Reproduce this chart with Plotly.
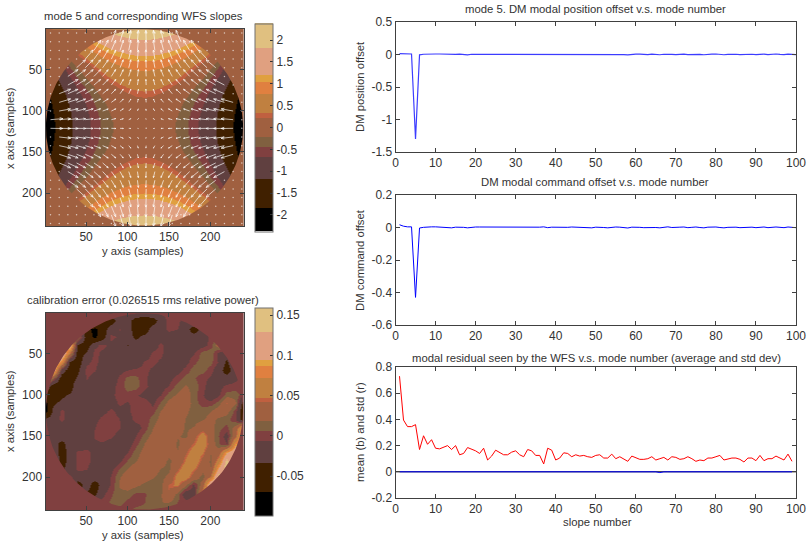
import numpy as np
import plotly.graph_objects as go

W, H = 811, 541

# ---------- discrete palette shared by both images ----------
PALETTE = ["#000000", "#402000", "#604040", "#804040", "#806040", "#A06040",
           "#C06040", "#C08040", "#E08040", "#E0A040", "#E0A080", "#E0C080"]
MODE_LEVELS = [-2.38, -1.85, -1.2, -0.68, -0.45, -0.22, 0.21, 0.31, 0.75, 1.02, 1.2, 1.81, 2.38]
ERR_LEVELS = [-0.0996, -0.0693, -0.034, -0.0058, 0.0062, 0.0187, 0.0427, 0.0477, 0.0718,
              0.0875, 0.0946, 0.1286, 0.159]
MODE_TICKS = [-2, -1.5, -1, -0.5, 0, 0.5, 1, 1.5, 2]
MODE_TICK_TEXT = ["-2", "-1.5", "-1", "-0.5", "0", "0.5", "1", "1.5", "2"]
ERR_TICKS = [-0.05, 0, 0.05, 0.1, 0.15]
ERR_TICK_TEXT = ["-0.05", "0", "0.05", "0.1", "0.15"]

GRID = list(range(0, 241, 10))
IMG_TICKS = [50, 100, 150, 200]

# Mode 5 map: one quadrant (distance from centre in rows / columns of 10 samples)
MODE_QUADRANT = [
    [0.00, -0.02, -0.06, -0.14, -0.26, -0.40, -0.58, -0.78, -1.02, -1.30, -1.60, -1.94, -2.30],
    [0.02, 0.00, -0.05, -0.13, -0.24, -0.38, -0.56, -0.77, -1.01, -1.28, -1.58, -1.92, -2.29],
    [0.06, 0.05, 0.00, -0.08, -0.19, -0.34, -0.51, -0.72, -0.96, -1.23, -1.54, -1.87, -2.24],
    [0.14, 0.13, 0.08, 0.00, -0.11, -0.26, -0.43, -0.64, -0.88, -1.15, -1.46, -1.79, -2.16],
    [0.26, 0.24, 0.19, 0.11, 0.00, -0.14, -0.32, -0.53, -0.77, -1.04, -1.34, -1.68, -2.05],
    [0.40, 0.38, 0.34, 0.26, 0.14, 0.00, -0.18, -0.38, -0.62, -0.90, -1.20, -1.54, -1.90],
    [0.58, 0.56, 0.51, 0.43, 0.32, 0.18, 0.00, -0.21, -0.45, -0.72, -1.02, -1.36, -1.73],
    [0.78, 0.77, 0.72, 0.64, 0.53, 0.38, 0.21, 0.00, -0.24, -0.51, -0.82, -1.15, -1.52],
    [1.02, 1.01, 0.96, 0.88, 0.77, 0.62, 0.45, 0.24, 0.00, -0.27, -0.58, -0.91, -1.28],
    [1.30, 1.28, 1.23, 1.15, 1.04, 0.90, 0.72, 0.51, 0.27, 0.00, -0.30, -0.64, -1.01],
    [1.60, 1.58, 1.54, 1.46, 1.34, 1.20, 1.02, 0.82, 0.58, 0.30, 0.00, -0.34, -0.70],
    [1.94, 1.92, 1.87, 1.79, 1.68, 1.54, 1.36, 1.15, 0.91, 0.64, 0.34, 0.00, -0.37],
    [2.30, 2.29, 2.24, 2.16, 2.05, 1.90, 1.73, 1.52, 1.28, 1.01, 0.70, 0.37, 0.00],
]

# Calibration error map: rows 0..240, columns 0..240, every 10 samples
ERR_MAP = [
    [0]*25,
    [0,0,0,0,0,0,0,-.04,-.05,-.02,-.02,-.05,-.06,-.05,-.02,0,0,-.02,0,0,0,0,0,0,0],
    [0,0,0,0,0,-.06,-.08,-.05,-.02,-.005,-.02,-.05,-.05,-.02,-.02,0,-.006,-.02,-.05,-.02,0,0,0,0,0],
    [0,0,0,0,.03,-.05,-.075,-.05,0,-.01,-.02,-.04,-.025,-.02,-.02,-.02,-.02,-.02,-.02,-.02,0,0,0,0,0],
    [0,0,0,.13,-.04,-.05,-.01,0,-.012,-.02,-.035,-.02,-.02,-.02,0,-.02,-.02,-.02,-.02,-.012,0,.03,0,0,0],
    [0,0,.14,.05,-.05,-.03,0,-.01,-.02,-.02,-.02,-.02,-.02,-.002,0,-.02,-.02,-.012,-.008,.012,.015,-.01,-.02,0,0],
    [0,.14,.08,-.04,-.05,-.01,0,-.015,-.02,-.02,-.02,-.02,-.004,0,-.01,-.02,-.02,-.012,.003,.013,.01,-.008,-.04,0,0],
    [0,.13,-.02,-.05,-.04,0,-.004,-.02,-.02,-.012,-.006,-.002,0,-.01,-.02,-.02,-.012,0,.012,.012,0,-.02,-.05,-.01,0],
    [.08,.02,-.05,-.05,-.03,-.004,-.015,-.02,-.02,-.002,.01,.01,-.002,-.015,-.02,-.012,0,.012,.008,-.002,-.008,-.02,-.02,-.01,0],
    [0,-.05,-.06,-.05,-.01,-.015,-.02,-.02,-.012,0,.012,.012,-.002,-.012,-.015,-.005,.012,.02,.014,-.001,-.015,-.012,-.002,0,0],
    [-.05,-.06,-.04,-.03,-.02,-.02,-.02,-.02,-.01,0,.002,-.003,-.012,-.015,-.006,.012,.022,.028,.012,-.004,-.02,-.008,.012,.012,0],
    [-.08,-.04,-.025,-.02,-.02,-.02,-.02,-.02,-.014,-.003,-.008,.002,.003,-.01,.008,.024,.032,.03,.012,0,0,.012,.045,.02,-.05],
    [-.09,-.03,0,-.02,-.02,-.02,-.02,-.012,-.002,-.012,-.01,.003,.002,.001,.02,.03,.032,.022,.012,.014,.018,.03,.025,0,-.06],
    [-.03,-.02,-.001,-.02,-.02,-.02,-.012,0,.003,-.006,-.015,0,-.003,.012,.024,.032,.03,.018,.012,.017,.024,.016,.012,-.005,-.06],
    [0,-.02,-.018,-.02,-.02,-.02,-.006,.006,.005,-.005,-.02,-.015,0,.018,.03,.033,.028,.016,.02,.035,.025,.01,.002,.03,.1],
    [.01,-.02,-.02,-.02,-.02,-.02,-.005,0,-.003,-.014,-.02,-.006,.012,.025,.032,.032,.02,.016,.035,.06,.03,.006,-.015,.04,.12],
    [-.02,-.02,-.045,-.02,-.02,-.02,-.008,-.008,-.014,-.02,-.015,.002,.02,.03,.033,.03,.016,.03,.045,.065,.03,.008,-.005,.09,.1],
    [0,-.01,-.05,-.02,-.003,0,-.012,-.02,-.02,-.018,-.006,.012,.025,.03,.032,.024,.02,.04,.06,.05,.02,.03,.09,.12,0],
    [0,0,-.045,-.025,-.001,0,-.012,-.02,-.02,-.01,.008,.018,.028,.03,.025,.016,.025,.05,.065,.035,.016,.06,.14,.05,0],
    [0,0,-.04,-.02,-.002,-.005,-.02,-.02,-.012,.008,.02,.03,.03,.026,.018,.016,.04,.065,.05,.025,.02,.1,.15,0,0],
    [0,0,0,0,-.02,-.02,-.02,-.02,-.005,.018,.03,.032,.025,.02,.014,.022,.06,.06,.03,.012,.05,.15,.1,0,0],
    [0,0,0,0,-.05,-.02,-.05,-.02,-.004,.02,.028,.022,.015,.01,.012,.045,.05,.02,-.01,.03,.14,.12,0,0,0],
    [0,0,0,0,0,-.04,-.04,-.01,.004,.015,.012,.004,.005,.012,.016,.04,.012,-.02,-.015,.06,.1,0,0,0,0],
    [0,0,0,0,0,0,0,0,.008,.012,.002,-.002,.006,.012,.018,.02,.006,0,0,0,0,0,0,0,0],
    [0,0,0,0,0,0,0,0,0,0,0,.012,.012,.012,0,0,0,0,0,0,0,0,0,0,0],
]

# ---------- line plots ----------
MODE_NUMBERS = list(range(1, 101))
SLOPE_NUMBERS = list(range(1, 100))
POSITION_OFFSET = [
    .012, .012, .008, .008, -1.30, -.005, .004, .008, .008, .008,
    .008, .006, -.004, -.004, .002, .006, -.002, -.006, .004, .004,
    .006, .006, -.002, -.004, -.004, -.002, .006, .002, -.003, .006,
    .006, .002, -.002, .003, -.002, .006, .006, .002, -.004, -.004,
    .004, .006, -.003, .002, .006, .006, .002, -.002, -.004, .004,
    .006, .002, -.004, .002, .006, .006, -.002, -.006, .004, .006,
    .006, -.002, -.002, .006, .002, -.004, .004, .008, .002, -.003,
    .004, .006, -.002, .002, .006, .002, -.004, .004, .006, .008,
    .002, -.004, .002, .006, .004, -.002, .002, .008, .004, -.003,
    .004, .006, -.002, .004, .008, .002, -.002, .006, .004, -.002,
]
COMMAND_OFFSET = [
    .017, .008, .004, .004, -.43, -.003, .001, .004, .004, .004,
    .003, -.001, .002, -.002, .002, .003, .001, -.002, .002, .003,
    .003, .003, .002, -.001, -.001, .000, .003, .000, -.001, .000,
    .000, .001, .003, .000, -.001, .002, .004, -.001, .002, .001,
    .000, .003, .001, .003, .002, .000, .002, -.001, -.002, .002,
    .003, .000, -.002, .001, .003, .002, -.001, -.003, .002, .003,
    .001, -.001, .000, .003, .000, -.002, .002, .004, .000, -.001,
    .002, .003, -.001, .001, .003, .000, -.002, .002, .003, .003,
    .000, -.002, .001, .003, .002, -.001, .001, .003, .002, -.001,
    .002, .003, -.001, .002, .003, .001, -.001, .003, .002, -.001,
]
RESIDUAL_STD = [
    .73, .395, .345, .345, .36, .17, .275, .21, .245, .18,
    .175, .19, .20, .17, .20, .13, .14, .185, .175, .16,
    .14, .18, .09, .12, .165, .15, .13, .13, .15, .16,
    .13, .115, .17, .16, .125, .125, .06, .18, .165, .09,
    .105, .145, .14, .115, .13, .12, .125, .115, .11, .125,
    .13, .105, .105, .135, .10, .115, .10, .08, .12, .105,
    .095, .095, .10, .115, .09, .10, .11, .09, .115, .11,
    .095, .10, .115, .10, .08, .09, .085, .105, .105, .115,
    .125, .09, .10, .105, .105, .095, .075, .105, .105, .085,
    .125, .085, .10, .10, .12, .105, .09, .135, .08,
]
RESIDUAL_MEAN = [
    0, 0, 0, 0, 0, 0, 0, 0, 0, 0, 0, 0, 0, 0, 0, 0, 0, 0, 0, 0,
    0, 0, 0, 0, 0, 0, 0, 0, 0, 0, 0, 0, 0, 0, 0, 0, 0, 0, 0, 0,
    0, 0, 0, 0, 0, 0, 0, 0, 0, 0, 0, 0, 0, 0, 0, 0, 0, 0, 0, 0,
    0, 0, 0, 0, 0, -.006, 0, 0, 0, 0, 0, 0, 0, 0, 0, 0, 0, 0, 0, 0,
    0, 0, 0, 0, 0, 0, 0, 0, 0, 0, 0, 0, 0, 0, 0, 0, 0, 0, 0,
]
ZERO_LINE_X = [0, 100]
ZERO_LINE_Y = [0, 0]


def px(x):
    return x / W


def py(y):
    return 1 - y / H


def step_scale(levels):
    lo, hi = levels[0], levels[-1]
    out = []
    for i, c in enumerate(PALETTE):
        out.append([(levels[i] - lo) / (hi - lo), c])
        out.append([(levels[i + 1] - lo) / (hi - lo), c])
    return out


def full_from_quadrant(q):
    rows = [r[:0:-1] + r for r in q]
    return rows[:0:-1] + rows


FONT = "Liberation Sans"
TXT = "#333333"
LINE = "#404040"
fig = go.Figure()

AX = dict(showgrid=False, zeroline=False, showline=True, linecolor=LINE, linewidth=1,
          mirror="ticks", ticks="inside", ticklen=4, tickcolor=LINE, tickwidth=1,
          tickfont=dict(family=FONT, size=12, color=TXT))

panels = {
    "": (45.5, 243.5, 29, 226),
    "2": (45.5, 243.5, 313, 510),
    "3": (395.5, 796, 22, 152),
    "4": (395.5, 796, 195, 325),
    "5": (395.5, 796, 367, 498),
}
layout = {}
for k, (l, r, t, b) in panels.items():
    layout["xaxis" + k] = dict(AX, domain=[px(l), px(r)], anchor="y" + k)
    layout["yaxis" + k] = dict(AX, domain=[py(b), py(t)], anchor="x" + k)

for k in ["", "2"]:
    layout["xaxis" + k].update(range=[1, 240], tickvals=IMG_TICKS)
    layout["yaxis" + k].update(range=[240, 1], tickvals=IMG_TICKS)

layout["xaxis3"].update(range=[0, 100], tick0=0, dtick=10)
layout["xaxis4"].update(range=[0, 100], tick0=0, dtick=10)
layout["xaxis5"].update(range=[0, 100], tick0=0, dtick=10)
layout["yaxis3"].update(range=[-1.5, 0.5], tickvals=[-1.5, -1, -0.5, 0, 0.5],
                        ticktext=["-1.5", "-1", "-0.5", "0", "0.5"])
layout["yaxis4"].update(range=[-0.6, 0.2], tickvals=[-0.6, -0.4, -0.2, 0, 0.2],
                        ticktext=["-0.6", "-0.4", "-0.2", "0", "0.2"])
layout["yaxis5"].update(range=[-0.2, 0.8], tickvals=[-0.2, 0, 0.2, 0.4, 0.6, 0.8],
                        ticktext=["-0.2", "0", "0.2", "0.4", "0.6", "0.8"])

mode_z = np.array(full_from_quadrant(MODE_QUADRANT), dtype=float)
err_z = np.array(ERR_MAP, dtype=float)


def cbar(tickvals, ticktext, top, bottom):
    return dict(x=px(255), xanchor="left", y=py(bottom), yanchor="bottom",
                len=(bottom - top) / H, lenmode="fraction", thickness=17.5, thicknessmode="pixels",
                xpad=0, ypad=0, outlinecolor="#707070", outlinewidth=1,
                ticks="inside", ticklen=3, tickcolor="#333333", tickwidth=1,
                tickvals=tickvals, ticktext=ticktext,
                tickfont=dict(family=FONT, size=12, color=TXT))


fig.add_trace(go.Heatmap(x=GRID, y=GRID, z=mode_z, zsmooth="best", xaxis="x", yaxis="y",
                         zmin=MODE_LEVELS[0], zmax=MODE_LEVELS[-1],
                         colorscale=step_scale(MODE_LEVELS), hoverinfo="skip",
                         colorbar=cbar(MODE_TICKS, MODE_TICK_TEXT, 23.3, 231.5)))
fig.add_trace(go.Heatmap(x=GRID, y=GRID, z=err_z, zsmooth="best", xaxis="x2", yaxis="y2",
                         zmin=ERR_LEVELS[0], zmax=ERR_LEVELS[-1],
                         colorscale=step_scale(ERR_LEVELS), hoverinfo="skip",
                         colorbar=cbar(ERR_TICKS, ERR_TICK_TEXT, 308, 516)))

# Aperture mask: everything outside the pupil takes the image's background colour
CX, CY, RAD = 120.5, 120.5, 119.0
t = np.linspace(0, 2 * np.pi, 361)
mx = np.r_[-5, 250, 250, -5, -5, CX + RAD * np.cos(-np.pi / 2 - t), -5]
my = np.r_[-5, -5, 250, 250, CY - RAD, CY + RAD * np.sin(-np.pi / 2 - t), -5]
for xa, ya, col in [("x", "y", PALETTE[5]), ("x2", "y2", PALETTE[3])]:
    fig.add_trace(go.Scatter(x=mx, y=my, mode="lines", fill="toself", fillcolor=col,
                             line=dict(width=0, color=col), xaxis=xa, yaxis=ya,
                             hoverinfo="skip", showlegend=False))

# WFS slopes: gradient of the mode map, on the lenslet grid
Q_ROWS = 6 + 10.5 * np.arange(23)
Q_COLS = 7 + 10.5 * np.arange(23)
gv, gu = np.gradient(mode_z, 10.0)
SCALE = 420.0


def sample(a, r, c):
    fr, fc = np.clip(r / 10, 0, 23.999), np.clip(c / 10, 0, 23.999)
    i, j = int(fr), int(fc)
    dr, dc = fr - i, fc - j
    return ((1 - dr) * (1 - dc) * a[i, j] + (1 - dr) * dc * a[i, j + 1]
            + dr * (1 - dc) * a[i + 1, j] + dr * dc * a[i + 1, j + 1])


ax_, ay_, dx_, dy_ = [], [], [], []
for r in Q_ROWS:
    for c in Q_COLS:
        if np.hypot(r - CY, c - CX) > 114:
            dx_.append(c)
            dy_.append(r)
            continue
        u, v = SCALE * sample(gu, r, c), SCALE * sample(gv, r, c)
        if np.hypot(u, v) < 0.6:
            dx_.append(c)
            dy_.append(r)
            continue
        tx, ty = c + u, r + v
        ax_ += [c, tx, None, tx - .25 * u - .1 * v, tx, tx - .25 * u + .1 * v, None]
        ay_ += [r, ty, None, ty - .25 * v + .1 * u, ty, ty - .25 * v - .1 * u, None]
fig.add_trace(go.Scatter(x=ax_, y=ay_, mode="lines", line=dict(color="rgba(255,255,255,0.75)", width=0.9),
                         connectgaps=False, xaxis="x", yaxis="y", hoverinfo="skip", showlegend=False))
fig.add_trace(go.Scatter(x=dx_, y=dy_, mode="markers", marker=dict(color="rgba(255,255,255,0.65)", size=1.5),
                         xaxis="x", yaxis="y", hoverinfo="skip", showlegend=False))

BLUE = "#0000FF"
RED = "#FF0000"
fig.add_trace(go.Scatter(x=MODE_NUMBERS, y=POSITION_OFFSET, mode="lines", xaxis="x3", yaxis="y3",
                         line=dict(color="#3C3CFF", width=1.2), showlegend=False))
fig.add_trace(go.Scatter(x=MODE_NUMBERS, y=COMMAND_OFFSET, mode="lines", xaxis="x4", yaxis="y4",
                         line=dict(color=BLUE, width=1), showlegend=False))
fig.add_trace(go.Scatter(x=ZERO_LINE_X, y=ZERO_LINE_Y, mode="lines", xaxis="x5", yaxis="y5",
                         line=dict(color="#000000", width=1), showlegend=False))
fig.add_trace(go.Scatter(x=SLOPE_NUMBERS, y=RESIDUAL_MEAN, mode="lines", xaxis="x5", yaxis="y5",
                         line=dict(color=BLUE, width=1), showlegend=False))
fig.add_trace(go.Scatter(x=SLOPE_NUMBERS, y=RESIDUAL_STD, mode="lines", xaxis="x5", yaxis="y5",
                         line=dict(color=RED, width=1), showlegend=False))

TITLE_SIZE = 11.3


def note(text, x, y, angle=0):
    return dict(text=text, x=px(x), y=py(y), xref="paper", yref="paper", showarrow=False,
                xanchor="center", yanchor="middle", textangle=angle,
                font=dict(family=FONT, size=TITLE_SIZE, color=TXT))


annotations = [
    note("mode 5 and corresponding WFS slopes", 143, 16),
    note("calibration error (0.026515 rms relative power)", 143, 300),
    note("mode 5. DM modal position offset v.s. mode number", 595, 9),
    note("DM modal command offset v.s. mode number", 595, 182),
    note("modal residual seen by the WFS v.s. mode number (average and std dev)", 596, 358),
    note("y axis (samples)", 143, 251),
    note("y axis (samples)", 143, 535),
    note("x axis (samples)", 10, 128, -90),
    note("x axis (samples)", 10, 411, -90),
    note("DM position offset", 360, 87, -90),
    note("DM command offset", 360, 260, -90),
    note("mean (b) and std (r)", 360, 432, -90),
    note("slope number", 597, 522),
]

fig.update_layout(width=W, height=H, margin=dict(l=0, r=0, t=0, b=0, autoexpand=False), autosize=False,
                  paper_bgcolor="#FFFFFF", plot_bgcolor="#FFFFFF", showlegend=False,
                  annotations=annotations, **layout)
fig.write_html("out.html", config={"displayModeBar": False},
               post_script='document.body.style.margin="0";document.body.style.overflow="hidden";window.dispatchEvent(new Event("resize"));')
